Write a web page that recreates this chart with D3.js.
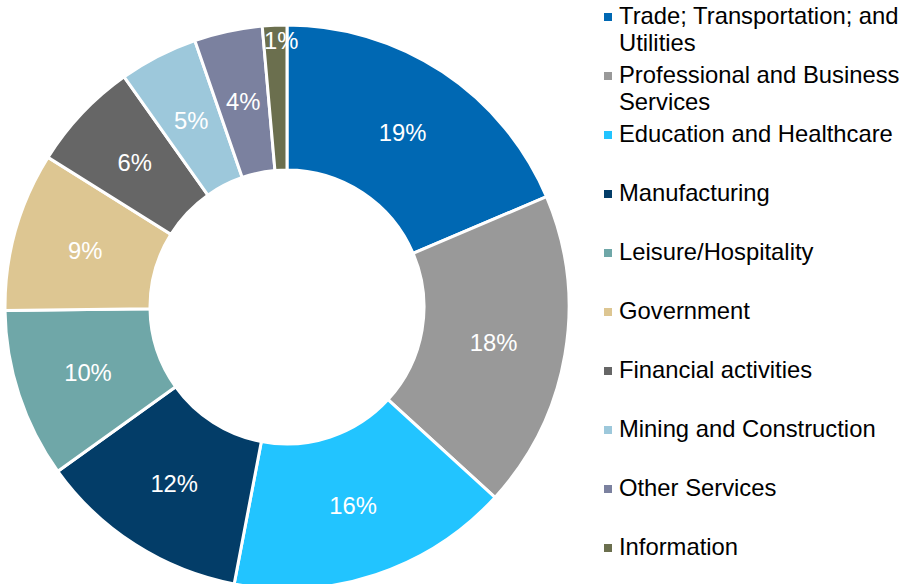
<!DOCTYPE html>
<html>
<head>
<meta charset="utf-8">
<script src="https://cdn.jsdelivr.net/npm/d3@7"></script>
<style>
  body { margin: 0; background: #fff; }
  svg { display: block; font-family: 'Liberation Sans', Arial, sans-serif; }
</style>
</head>
<body>
<div id="chart"></div>
<script>
// Data (shares of employment, %)
const categories = [
  'Trade; Transportation; and Utilities',
  'Professional and Business Services',
  'Education and Healthcare',
  'Manufacturing',
  'Leisure/Hospitality',
  'Government',
  'Financial activities',
  'Mining and Construction',
  'Other Services',
  'Information'
]
const values = [18.6, 18.2, 16.2, 12.1, 9.7, 9.1, 6.3, 4.5, 3.9, 1.4]
const labels = ['19%', '18%', '16%', '12%', '10%', '9%', '6%', '5%', '4%', '1%']
const colors = ['#0068b3', '#999999', '#22c4ff', '#033d68', '#6fa7a8',
  '#ddc692', '#666666', '#9dc8db', '#7b819f', '#6b6f4e']

const width = 907
const height = 584
const cx = 287
const cy = 307
const outerR = 282
const innerR = 137

const svg = d3.select('#chart')
  .append('svg')
  .attr('width', width)
  .attr('height', height)

const data = categories.map((c, i) => ({ name: c, value: values[i], label: labels[i], color: colors[i] }))

const pie = d3.pie().sort(null).value(d => d.value)
const arc = d3.arc().innerRadius(innerR).outerRadius(outerR)
const arcs = pie(data)

const g = svg.append('g').attr('transform', `translate(${cx},${cy})`)

// Slices
g.selectAll('path.slice')
  .data(arcs)
  .join('path')
  .attr('class', 'slice')
  .attr('d', arc)
  .attr('fill', d => d.data.color)
  .attr('stroke', '#fff')
  .attr('stroke-width', 3)

// Percent labels - small slices get pushed out near the rim
const outerLabelArc = d3.arc().innerRadius(267).outerRadius(267)
g.selectAll('text.pct')
  .data(arcs)
  .join('text')
  .attr('class', 'pct')
  .attr('transform', d => {
    const p = d.data.value < 2 ? outerLabelArc.centroid(d) : arc.centroid(d)
    return `translate(${p[0] + (d.data.value < 2 ? 6 : 0)},${p[1]})`
  })
  .attr('text-anchor', 'middle')
  .attr('dy', '0.35em')
  .attr('fill', '#fff')
  .style('font-size', '23.8px')
  .text(d => d.data.label)

// Legend
const legendX = 619
const legendTop = 24
const legendStep = 59
const lineHeight = 27
const maxTextWidth = width - legendX - 1

const legend = svg.append('g').attr('class', 'legend')

data.forEach((d, i) => {
  const y = legendTop + i * legendStep
  legend.append('rect')
    .attr('x', 604)
    .attr('y', y - 11)
    .attr('width', 8)
    .attr('height', 8)
    .attr('fill', d.color)

  const text = legend.append('text')
    .attr('x', legendX)
    .attr('y', y)
    .attr('fill', '#000')
    .style('font-size', '23.8px')

  // simple word wrap
  const words = d.name.split(' ')
  let line = []
  let tspan = text.append('tspan').attr('x', legendX).attr('y', y)
  let lineNo = 0
  words.forEach(w => {
    line.push(w)
    tspan.text(line.join(' '))
    if (tspan.node().getComputedTextLength() > maxTextWidth && line.length > 1) {
      line.pop()
      tspan.text(line.join(' '))
      line = [w]
      lineNo++
      tspan = text.append('tspan')
        .attr('x', legendX)
        .attr('y', y + lineNo * lineHeight)
        .text(w)
    }
  })
})
</script>
</body>
</html>
